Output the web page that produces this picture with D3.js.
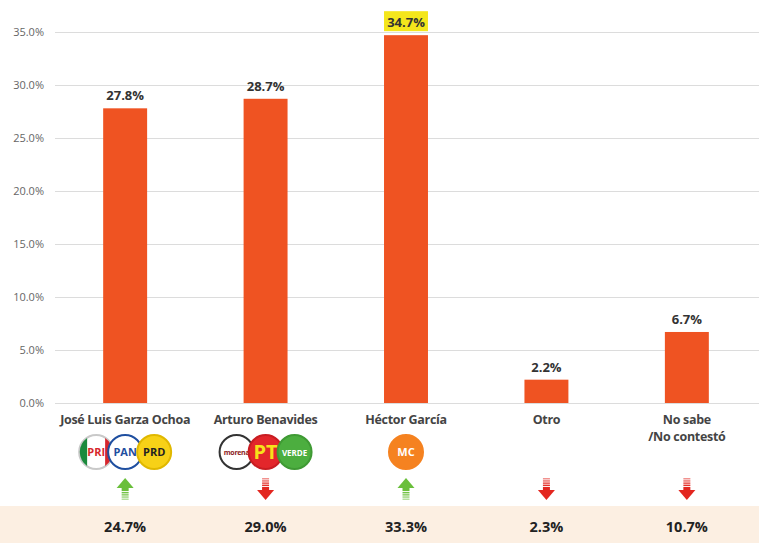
<!DOCTYPE html>
<html>
<head>
<meta charset="utf-8">
<script src="https://cdn.jsdelivr.net/npm/d3@7"></script>
<style>
  body { margin: 0; background: #fff; }
  svg text { font-family: "Open Sans", "Noto Sans", sans-serif; }
</style>
</head>
<body>
<div id="chart"></div>
<script>
// data
var candidates = ["José Luis Garza Ochoa", "Arturo Benavides", "Héctor García", "Otro", "No sabe/No contestó"];
var values = [27.8, 28.7, 34.7, 2.2, 6.7];
var previous = [24.7, 29.0, 33.3, 2.3, 10.7];
var trend = ["up", "down", "up", "down", "down"];
var yTicks = [0, 5, 10, 15, 20, 25, 30, 35];

// party logos under each candidate
var logos = [
  [{t: "PRI", fill: "#fff", stroke: "#c9c9c9", color: "#d7262d"},
   {t: "PAN", fill: "#fff", stroke: "#1f4fa0", color: "#1f4fa0"},
   {t: "PRD", fill: "#f7d117", stroke: "#e0b800", color: "#222"}],
  [{t: "morena", fill: "#fff", stroke: "#333", color: "#8c1a1a"},
   {t: "PT", fill: "#e3262b", stroke: "#c81d22", color: "#f6e11a"},
   {t: "VERDE", fill: "#4cae3f", stroke: "#3f9a34", color: "#fff"}],
  [{t: "MC", fill: "#f58220", stroke: "#f58220", color: "#fff"}],
  [],
  []
];

var width = 759, height = 543;
var margin = {top: 32, left: 55, right: 2};
var chartBottom = 403;

var svg = d3.select("#chart").append("svg")
  .attr("width", width)
  .attr("height", height);

var x = d3.scaleBand()
  .domain(candidates)
  .range([margin.left, width - margin.right])
  .paddingInner(0.687)
  .paddingOuter(0.343);

var y = d3.scaleLinear()
  .domain([0, 35])
  .range([chartBottom, margin.top]);

// gridlines + tick labels
var yAxis = svg.append("g")
  .attr("transform", `translate(${margin.left},0)`)
  .call(d3.axisLeft(y).tickValues(yTicks).tickSize(-(width - margin.left)).tickFormat(d => d.toFixed(1) + "%").tickPadding(11));
yAxis.select(".domain").remove();
yAxis.selectAll(".tick line").attr("stroke", "#dcdcdc").attr("stroke-width", 1.2);
yAxis.selectAll(".tick text").attr("fill", "#666").style("font-size", "11px");

// bars
svg.selectAll("rect.bar")
  .data(values)
  .enter()
  .append("rect")
  .attr("class", "bar")
  .attr("x", (d, i) => x(candidates[i]))
  .attr("y", d => y(d))
  .attr("width", x.bandwidth())
  .attr("height", d => chartBottom - y(d))
  .attr("fill", "#ef5322");

// highlight box behind max value
var maxI = values.indexOf(d3.max(values));
svg.append("rect")
  .attr("x", x(candidates[maxI]))
  .attr("y", y(values[maxI]) - 24)
  .attr("width", x.bandwidth())
  .attr("height", 20)
  .attr("fill", "#f4e61c");

// value labels
svg.selectAll("text.val")
  .data(values)
  .enter()
  .append("text")
  .attr("class", "val")
  .attr("x", (d, i) => x(candidates[i]) + x.bandwidth() / 2)
  .attr("y", d => y(d) - 8)
  .attr("text-anchor", "middle")
  .attr("fill", "#333")
  .style("font-size", "13px")
  .style("font-weight", "bold")
  .text(d => d.toFixed(1) + "%");

// category labels (split on "/" into two lines)
candidates.forEach(function(c, i) {
  var lines = c.indexOf("/") > 0 ? [c.split("/")[0], "/" + c.split("/")[1]] : [c];
  lines.forEach(function(l, j) {
    svg.append("text")
      .attr("x", x(c) + x.bandwidth() / 2)
      .attr("y", 424 + j * 17)
      .attr("text-anchor", "middle")
      .attr("fill", "#444")
      .style("font-size", "12.5px")
      .style("letter-spacing", "-0.3px")
      .style("font-weight", "bold")
      .text(l);
  });
});

// logos
logos.forEach(function(group, i) {
  var cx0 = x(candidates[i]) + x.bandwidth() / 2;
  var r = 17, step = 29;
  group.forEach(function(l, j) {
    var cx = cx0 + (j - (group.length - 1) / 2) * step;
    var g = svg.append("g").attr("transform", `translate(${cx},452)`);
    g.append("circle").attr("r", r).attr("fill", l.fill).attr("stroke", l.stroke).attr("stroke-width", 2);
    if (l.t == "PRI") {
      g.append("path").attr("d", "M-9,-14 A17,17 0 0,0 -9,14 Z").attr("fill", "#1b8a3c");
      g.append("path").attr("d", "M9,-14 A17,17 0 0,1 9,14 Z").attr("fill", "#d7262d");
    }
    g.append("text")
      .attr("text-anchor", "middle")
      .attr("dy", l.t == "morena" ? 3 : (l.t == "PT" ? 7 : 4))
      .attr("fill", l.color)
      .style("font-size", l.t == "morena" ? "7px" : (l.t == "PT" ? "20px" : (l.t == "VERDE" ? "8px" : "11px")))
      .style("letter-spacing", l.t == "morena" ? "-0.3px" : null)
      .style("font-weight", "bold")
      .text(l.t);
  });
});

// trend arrows
trend.forEach(function(t, i) {
  var cx = x(candidates[i]) + x.bandwidth() / 2;
  var g = svg.append("g").attr("transform", `translate(${cx},489)`);
  var col = t == "up" ? "#6abf3b" : "#e3261f";
  var s = t == "up" ? -1 : 1;
  // striped tail
  [0, 1, 2, 3].forEach(function(k) {
    g.append("rect")
      .attr("x", -3.5)
      .attr("y", s * (-11 + k * 2.2) - (s < 0 ? 1.5 : 0))
      .attr("width", 7)
      .attr("height", 1.5)
      .attr("fill", col)
      .attr("opacity", 0.5 + k * 0.15);
  });
  g.append("rect").attr("x", -3.5).attr("y", s > 0 ? -2 : -1).attr("width", 7).attr("height", 3).attr("fill", col);
  g.append("path")
    .attr("d", `M-8.5,${s * 1} L8.5,${s * 1} L0,${s * 11} Z`)
    .attr("fill", col);
});

// bottom strip with previous values
svg.append("rect")
  .attr("x", 0)
  .attr("y", 506)
  .attr("width", width)
  .attr("height", height - 506)
  .attr("fill", "#fcefe2");

svg.selectAll("text.prev")
  .data(previous)
  .enter()
  .append("text")
  .attr("class", "prev")
  .attr("x", (d, i) => x(candidates[i]) + x.bandwidth() / 2)
  .attr("y", 532)
  .attr("text-anchor", "middle")
  .attr("fill", "#222")
  .style("font-size", "14.5px")
  .style("font-weight", "bold")
  .text(d => d.toFixed(1) + "%");
</script>
</body>
</html>
